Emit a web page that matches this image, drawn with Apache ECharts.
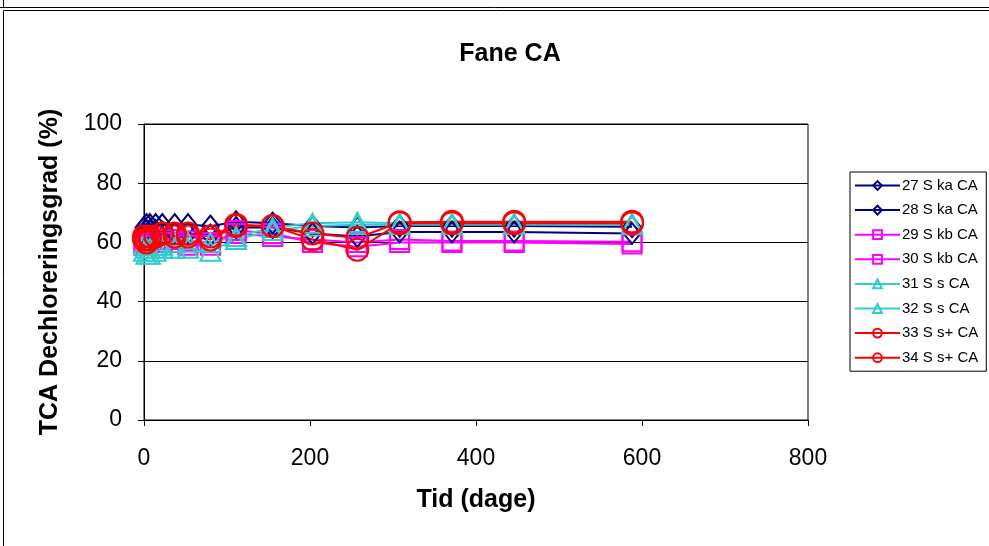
<!DOCTYPE html>
<html><head><meta charset="utf-8">
<script src="https://cdn.jsdelivr.net/npm/echarts@6/dist/echarts.min.js"></script>
<style>html,body{margin:0;padding:0;background:#fff}#c{width:989px;height:546px}</style>
</head><body><div id="c"></div>
<script>
const days = [0, 3, 7, 14, 22, 37, 53, 80, 111, 155, 203, 257, 308, 371, 446, 588];
const s27 = [65, 66, 66, 66, 66, 66, 66, 65.5, 67, 66.5, 65.5, 65, 65.5, 65.5, 65.5, 65.3];
const s28 = [63, 64, 64, 64, 63.5, 63, 63, 62.5, 65, 65, 63, 62, 63.5, 63.5, 63.5, 63];
const s29 = [60, 60, 61, 61, 61, 61, 60.5, 60, 63, 62, 61, 60, 61, 60.5, 60.5, 60.2];
const s30 = [59, 59, 60, 60, 60, 60, 59, 59, 64, 63, 60, 58.5, 60, 60, 60, 59.5];
const s31 = [57, 56, 56, 57, 58, 58, 58, 57, 61, 64, 65.5, 66, 66, 66, 66, 66];
const s32 = [59, 58, 58, 59, 59, 60, 60, 60, 62, 65, 66.5, 66.8, 66.5, 66.5, 66.5, 66.5];
const s33 = [62, 61, 61, 62, 63, 63, 63, 62, 66, 65.5, 63, 61.5, 66.8, 67, 67, 67];
const s34 = [61, 60, 62, 62, 63, 62, 62, 61, 65.5, 65.5, 61, 57.5, 66.5, 66.5, 66.5, 66.5];
const names = ['27 S ka CA','28 S ka CA','29 S kb CA','30 S kb CA','31 S s CA','32 S s CA','33 S s+ CA','34 S s+ CA'];
const xTicks = [0, 200, 400, 600, 800];
const yTicks = [0, 20, 40, 60, 80, 100];

const vals = [s27, s28, s29, s30, s31, s32, s33, s34];
const colors = ['#000080','#000080','#FF00FF','#FF00FF','#33CCCC','#33CCCC','#FF0000','#FF0000'];
const symbols = ['diamond','diamond','rect','rect','triangle','triangle','circle','circle'];
const sizes = [[17,21],[17,21],19,19,[20,19],[20,19],22,22];

const series = vals.map((v, i) => ({
  name: names[i], type: 'line',
  data: days.map((d, j) => [d, v[j]]),
  symbol: symbols[i], symbolSize: sizes[i],
  lineStyle: {color: colors[i], width: 2},
  itemStyle: {color: 'rgba(0,0,0,0)', borderColor: colors[i], borderWidth: 2},
  animation: false
}));

const chart = echarts.init(document.getElementById('c'));
chart.setOption({
  backgroundColor: '#fff',
  animation: false,
  title: {text: 'Fane CA', left: 505, top: 37, textAlign: 'center',
    textStyle: {fontFamily: 'Liberation Sans, Arial', fontSize: 25, fontWeight: 'bold', color: '#000'}},
  grid: {left: 144, right: 181, top: 124, bottom: 126, show: true, borderColor: '#000', borderWidth: 1},
  legend: {
    orient: 'vertical', left: 850, top: 172, data: names,
    itemWidth: 45, itemHeight: 11, itemGap: 9.6,
    padding: [6, 8, 6, 4],
    borderColor: '#000', borderWidth: 1,
    itemStyle: {color: 'rgba(0,0,0,0)'},
    textStyle: {fontFamily: 'Liberation Sans, Arial', fontSize: 15, color: '#000', padding: [0,0,0,-3]}
  },
  xAxis: {
    type: 'value', min: 0, max: 800, interval: 200,
    name: 'Tid (dage)', nameLocation: 'middle', nameGap: 68,
    nameTextStyle: {fontFamily: 'Liberation Sans, Arial', fontSize: 25, fontWeight: 'bold', color: '#000'},
    axisLine: {lineStyle: {color: '#000', width: 1}},
    axisTick: {show: true, length: 6, lineStyle: {color: '#000'}},
    axisLabel: {fontFamily: 'Liberation Sans, Arial', fontSize: 23, color: '#000', margin: 27,
      formatter: v => xTicks.includes(v) ? String(v) : ''},
    splitLine: {show: false}
  },
  yAxis: {
    type: 'value', min: 0, max: 100, interval: 20,
    name: 'TCA Dechloreringsgrad (%)', nameLocation: 'middle', nameGap: 81, nameRotate: 90,
    nameTextStyle: {fontFamily: 'Liberation Sans, Arial', fontSize: 25, fontWeight: 'bold', color: '#000'},
    axisLine: {show: true, lineStyle: {color: '#000', width: 1}},
    axisTick: {show: true, length: 6, lineStyle: {color: '#000'}},
    axisLabel: {fontFamily: 'Liberation Sans, Arial', fontSize: 23, color: '#000', margin: 22,
      formatter: v => yTicks.includes(v) ? String(v) : ''},
    splitLine: {show: true, lineStyle: {color: '#000', width: 1}}
  },
  graphic: [
    {type: 'line', shape: {x1: 0, y1: 7.5, x2: 989, y2: 7.5}, style: {stroke: '#000', lineWidth: 1}},
    {type: 'line', shape: {x1: 3.5, y1: 0, x2: 3.5, y2: 7.5}, style: {stroke: '#000', lineWidth: 1}},
    {type: 'line', shape: {x1: 3.5, y1: 10.5, x2: 989, y2: 10.5}, style: {stroke: '#000', lineWidth: 1}},
    {type: 'line', shape: {x1: 3.5, y1: 10.5, x2: 3.5, y2: 546}, style: {stroke: '#000', lineWidth: 1}}
  ],
  series: series
});
</script></body></html>
